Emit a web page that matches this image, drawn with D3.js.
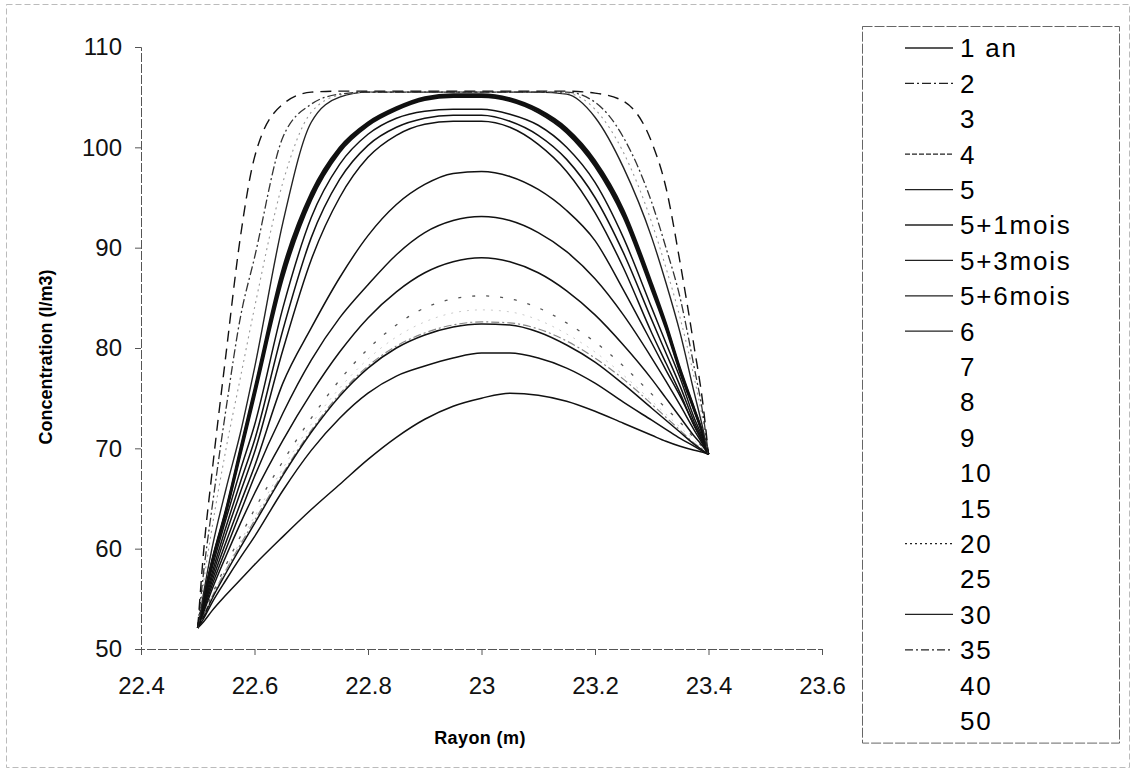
<!DOCTYPE html>
<html>
<head>
<meta charset="utf-8">
<script src="https://cdn.jsdelivr.net/npm/d3@7"></script>
<style>
  body { margin: 0; background: #fff; }
  svg { font-family: "Liberation Sans", Arial, sans-serif; }
</style>
</head>
<body>
<div id="chart"></div>
<script>
// Rayon (m) - shared x values for every series
const radius = [22.5, 22.51, 22.525, 22.55, 22.575, 22.6, 22.65, 22.7, 22.75, 22.8, 22.85, 22.9, 22.95,
	23.0, 23.05, 23.1, 23.15, 23.2, 23.25, 23.3, 23.325, 23.35, 23.375, 23.39, 23.4];

const seriesNames = ['1 an', '2', '3', '4', '5', '5+1mois', '5+3mois', '5+6mois', '6', '7', '8', '9', '10',
	'15', '20', '25', '30', '35', '40', '50'];

// Concentration (l/m3) per series
const c1an = [52.1, 59.5, 67.5, 79.5, 91.0, 99.0, 104.3, 105.5, 105.6, 105.6, 105.6, 105.6, 105.6,
	105.6, 105.6, 105.6, 105.6, 105.4, 104.6, 100.5, 96.0, 88.5, 80.0, 74.5, 69.4];
const c2 = [52.1, 57.5, 64.0, 74.0, 83.0, 89.0, 101.0, 104.3, 105.3, 105.5, 105.5, 105.5, 105.5,
	105.5, 105.5, 105.5, 105.5, 104.5, 101.0, 94.5, 90.0, 85.0, 78.0, 73.5, 69.4];
const c3 = [52.1, 56.5, 62.0, 70.0, 77.0, 84.0, 96.5, 103.5, 105.2, 105.5, 105.5, 105.5, 105.5,
	105.5, 105.5, 105.5, 105.4, 103.8, 99.5, 92.5, 88.0, 83.0, 77.0, 72.8, 69.4];
const c4 = [52.1, 55.5, 60.0, 66.0, 71.5, 78.0, 92.5, 102.5, 105.0, 105.5, 105.5, 105.5, 105.5,
	105.5, 105.5, 105.5, 105.3, 103.0, 98.0, 91.0, 86.5, 81.5, 75.5, 72.0, 69.4];
const c5 = [52.1, 55.0, 58.8, 64.0, 70.0, 76.0, 88.0, 95.5, 100.0, 102.5, 104.0, 105.0, 105.3,
	105.3, 104.9, 103.8, 101.9, 98.7, 93.8, 86.5, 82.5, 78.0, 74.0, 71.5, 69.4];
const c5m1 = [52.1, 54.95, 58.7, 63.85, 69.75, 75.7, 87.6, 95.25, 99.85, 102.4, 103.9, 104.9, 105.2,
	105.2, 104.8, 103.7, 101.75, 98.5, 93.55, 86.25, 82.3, 77.85, 73.9, 71.45, 69.4];
const c5m3 = [52.1, 54.9, 58.6, 63.7, 69.5, 75.4, 87.3, 95.0, 99.7, 102.3, 103.8, 104.8, 105.1,
	105.1, 104.7, 103.6, 101.6, 98.3, 93.3, 86.0, 82.1, 77.7, 73.8, 71.4, 69.4];
const c5m6 = [52.1, 54.85, 58.5, 63.55, 69.25, 75.1, 86.9, 94.75, 99.5, 102.15, 103.7, 104.7, 105.0,
	105.0, 104.6, 103.45, 101.45, 98.1, 93.05, 85.75, 81.9, 77.55, 73.7, 71.35, 69.4];
const c6 = [52.1, 54.6, 58.0, 63.0, 67.8, 72.3, 84.0, 93.0, 98.3, 101.3, 102.9, 103.6, 103.8,
	103.8, 103.3, 102.2, 100.0, 96.5, 91.0, 84.0, 80.5, 77.0, 73.0, 71.0, 69.4];
const c7 = [52.1, 54.4, 57.5, 62.2, 66.6, 70.8, 81.8, 91.0, 96.8, 100.2, 102.0, 102.9, 103.2,
	103.2, 102.6, 101.2, 98.8, 95.0, 89.5, 82.8, 79.5, 76.2, 72.6, 70.8, 69.4];
const c8 = [52.1, 54.2, 57.1, 61.5, 65.6, 69.6, 79.8, 88.8, 95.0, 99.0, 101.2, 102.3, 102.6,
	102.6, 102.0, 100.3, 97.6, 93.5, 88.0, 81.5, 78.5, 75.5, 72.2, 70.6, 69.4];
const c9 = [52.1, 54.0, 56.7, 60.7, 64.5, 68.2, 76.5, 82.0, 87.0, 91.2, 94.3, 96.3, 97.4,
	97.6, 97.1, 95.8, 93.7, 90.7, 85.8, 80.5, 77.8, 75.2, 72.3, 70.6, 69.4];
const c10 = [52.1, 53.8, 56.3, 60.0, 63.6, 67.2, 73.5, 78.8, 83.0, 86.3, 89.3, 91.5, 92.7,
	93.1, 92.7, 91.5, 89.6, 86.9, 83.3, 79.0, 76.7, 74.3, 71.8, 70.4, 69.4];
const c15 = [52.1, 53.6, 55.9, 59.3, 62.5, 65.5, 70.8, 75.5, 79.6, 83.0, 85.6, 87.5, 88.6,
	89.0, 88.6, 87.5, 85.7, 83.3, 80.3, 76.9, 75.0, 73.1, 71.2, 70.2, 69.4];
const c20 = [52.1, 53.4, 55.4, 58.4, 61.2, 63.9, 68.7, 73.0, 76.8, 79.9, 82.3, 84.0, 84.9,
	85.2, 84.9, 84.0, 82.5, 80.6, 78.2, 75.4, 74.0, 72.6, 71.0, 70.1, 69.4];
const c25 = [52.1, 53.3, 55.2, 58.0, 60.7, 63.2, 68.0, 72.4, 76.0, 78.9, 81.1, 82.6, 83.5,
	83.8, 83.6, 82.8, 81.4, 79.6, 77.3, 74.7, 73.4, 72.1, 70.8, 70.0, 69.4];
const c30 = [52.1, 53.2, 55.0, 57.6, 60.1, 62.5, 67.3, 71.6, 75.2, 78.0, 80.0, 81.3, 82.1,
	82.4, 82.3, 81.6, 80.3, 78.6, 76.4, 74.0, 72.8, 71.6, 70.4, 69.8, 69.4];
const c35 = [52.1, 53.3, 55.2, 57.9, 60.4, 62.8, 67.5, 71.8, 75.4, 78.2, 80.2, 81.5, 82.3,
	82.6, 82.5, 81.9, 80.7, 79.0, 76.9, 74.4, 73.1, 71.8, 70.5, 69.9, 69.4];
const c40 = [52.1, 53.0, 54.6, 56.9, 59.1, 61.2, 65.8, 69.8, 73.0, 75.5, 77.2, 78.2, 79.0,
	79.5, 79.5, 79.0, 78.0, 76.5, 74.6, 72.8, 71.9, 71.0, 70.2, 69.7, 69.4];
const c50 = [52.1, 52.7, 53.8, 55.4, 56.9, 58.4, 61.2, 63.9, 66.4, 68.9, 71.1, 72.9, 74.2,
	75.0, 75.5, 75.3, 74.7, 73.7, 72.5, 71.3, 70.7, 70.2, 69.8, 69.6, 69.4];

const concentrations = [c1an, c2, c3, c4, c5, c5m1, c5m3, c5m6, c6, c7, c8, c9, c10,
	c15, c20, c25, c30, c35, c40, c50];

const xTicks = [22.4, 22.6, 22.8, 23, 23.2, 23.4, 23.6];
const yTicks = [50, 60, 70, 80, 90, 100, 110];

// line look of each series (scanned black & white chart)
const lineStyles = [
	{ color: '#111', width: 1.4, dash: '11,7', swatch: '' },
	{ color: '#333', width: 1.3, dash: '9,3,2,3', swatch: '9,3,2,3' },
	{ color: '#999', width: 1.1, dash: '2,4', swatch: null },
	{ color: '#222', width: 1.4, dash: null, swatch: '5,2' },
	{ color: '#111', width: 1.9, dash: null, swatch: '' },
	{ color: '#111', width: 1.9, dash: null, swatch: '' },
	{ color: '#111', width: 1.9, dash: null, swatch: '' },
	{ color: '#111', width: 1.9, dash: null, swatch: '' },
	{ color: '#111', width: 1.5, dash: null, swatch: '' },
	{ color: '#111', width: 1.5, dash: null, swatch: null },
	{ color: '#111', width: 1.5, dash: null, swatch: null },
	{ color: '#111', width: 1.5, dash: null, swatch: null },
	{ color: '#111', width: 1.5, dash: null, swatch: null },
	{ color: '#111', width: 1.5, dash: null, swatch: null },
	{ color: '#555', width: 1.3, dash: '3,11', swatch: '2,3' },
	{ color: '#ccc', width: 1, dash: '2,6', swatch: null },
	{ color: '#111', width: 1.5, dash: null, swatch: '' },
	{ color: '#888', width: 1.2, dash: '8,3,2,3', swatch: '8,3,2,3' },
	{ color: '#111', width: 1.5, dash: null, swatch: null },
	{ color: '#111', width: 1.5, dash: null, swatch: null }
];

function createChart() {
	d3.select('#chart').html('');

	const width = 1135;
	const height = 772;
	const margin = { left: 141, right: 313, top: 47, bottom: 123 };

	const svg = d3
		.select('#chart')
		.append('svg')
		.attr('width', width)
		.attr('height', height);

	// outer frame of the chart
	svg.append('rect')
		.attr('x', 6.5)
		.attr('y', 4.5)
		.attr('width', 1123)
		.attr('height', 763)
		.attr('fill', 'none')
		.attr('stroke', '#bbb')
		.attr('stroke-dasharray', '6,3');

	const x = d3.scaleLinear().domain([22.4, 23.6]).range([margin.left, width - margin.right]);
	const y = d3.scaleLinear().domain([50, 110]).range([height - margin.bottom, margin.top]);

	// axes
	const xAxis = svg.append('g')
		.attr('transform', `translate(0,${height - margin.bottom})`)
		.call(d3.axisBottom(x).tickValues(xTicks).tickFormat(d3.format('')).tickSize(6).tickPadding(22));
	const yAxis = svg.append('g')
		.attr('transform', `translate(${margin.left},0)`)
		.call(d3.axisLeft(y).tickValues(yTicks).tickSize(6).tickPadding(13));

	[xAxis, yAxis].forEach((g) => {
		g.select('.domain').attr('stroke', '#555').attr('stroke-dasharray', '9,2');
		g.selectAll('.tick line').attr('stroke', '#555');
		g.selectAll('.tick text')
			.style('font-size', '24px')
			.style('font-family', '"Liberation Sans", Arial, sans-serif')
			.attr('fill', '#111');
	});

	// axis titles
	svg.append('text')
		.attr('x', 480)
		.attr('y', 744)
		.attr('text-anchor', 'middle')
		.style('font-size', '18px')
		.style('font-weight', 'bold')
		.style('letter-spacing', '0.4px')
		.text('Rayon (m)');

	svg.append('text')
		.attr('transform', 'translate(52,357) rotate(-90)')
		.attr('text-anchor', 'middle')
		.style('font-size', '18px')
		.style('font-weight', 'bold')
		.text('Concentration (l/m3)');

	// one line per series
	const line = d3.line()
		.x((d) => x(d[0]))
		.y((d) => y(d[1]))
		.curve(d3.curveMonotoneX);

	const series = seriesNames.map((name, i) => ({
		name: name,
		style: lineStyles[i],
		points: radius.map((r, j) => [r, concentrations[i][j]])
	}));

	svg.append('g')
		.selectAll('path')
		.data(series.slice().reverse())
		.enter()
		.append('path')
		.attr('d', (d) => line(d.points))
		.attr('fill', 'none')
		.attr('stroke', (d) => d.style.color)
		.attr('stroke-width', (d) => d.style.width)
		.attr('stroke-dasharray', (d) => d.style.dash)
		.attr('stroke-linejoin', 'round');

	// legend
	const legend = svg.append('g');
	const rowH = 35.4;
	legend.append('rect')
		.attr('x', 862.5)
		.attr('y', 26.5)
		.attr('width', 257)
		.attr('height', 48 + (series.length - 1) * rowH - 26 + 22)
		.attr('fill', '#fff')
		.attr('stroke', '#666')
		.attr('stroke-dasharray', '10,2');

	const item = legend.selectAll('g.item')
		.data(series)
		.enter()
		.append('g')
		.attr('class', 'item')
		.attr('transform', (d, i) => `translate(0,${48 + i * rowH})`);

	item.filter((d) => d.style.swatch !== null)
		.append('line')
		.attr('x1', 905)
		.attr('x2', 953)
		.attr('stroke', '#222')
		.attr('stroke-width', 1.3)
		.attr('stroke-dasharray', (d) => d.style.swatch || null);

	item.append('text')
		.attr('x', 960)
		.attr('dy', '0.36em')
		.style('font-size', '26px')
		.style('letter-spacing', '1.8px')
		.text((d) => d.name);
}

createChart();
</script>
</body>
</html>
